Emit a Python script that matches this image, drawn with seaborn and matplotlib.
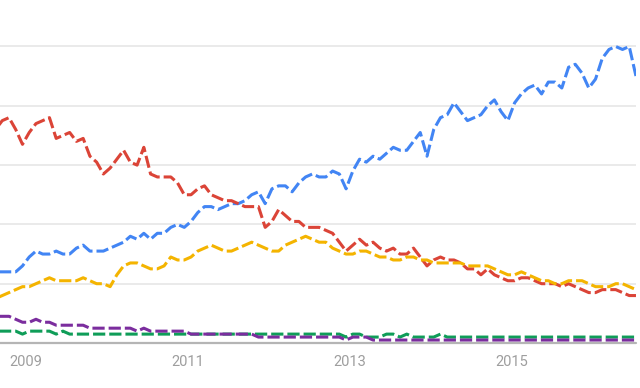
import numpy as np
import pandas as pd
import matplotlib
matplotlib.use("Agg")
import matplotlib.pyplot as plt
import seaborn as sns

# Monthly points, Aug 2008 .. Jul 2016
months = pd.date_range("2008-08-01", periods=96, freq="MS")

blue = [24, 24, 24, 24, 26, 29, 31, 30, 30, 31, 30, 30, 32, 33, 31, 31,
        31, 32, 33, 34, 36, 35, 37, 35, 37, 37, 39, 40, 39, 41, 44, 46,
        46, 45, 46, 47, 47, 48, 50, 51, 47, 52, 53, 53, 51, 54, 56, 57,
        56, 56, 58, 57, 52, 58, 62, 61, 63, 62, 64, 66, 65, 65, 68, 71,
        63, 72, 76, 77, 81, 78, 75, 76, 77, 80, 82, 78, 75, 81, 84, 86,
        87, 84, 88, 88, 86, 93, 94, 91, 86, 89, 96, 99, 100, 99, 100, 90]

red = [72, 75, 76, 72, 67, 71, 74, 75, 76, 69, 70, 71, 68, 69, 63, 61,
       57, 59, 62, 65, 61, 60, 66, 57, 56, 56, 56, 54, 50, 50, 52, 53,
       50, 49, 48, 48, 47, 46, 46, 46, 39, 41, 45, 43, 41, 41, 39, 39,
       39, 38, 37, 34, 31, 33, 35, 33, 34, 32, 31, 32, 30, 30, 32, 29,
       26, 28, 29, 28, 28, 27, 25, 25, 23, 25, 23, 22, 21, 21, 22, 22,
       21, 20, 20, 20, 19, 20, 19, 18, 17, 17, 18, 18, 18, 17, 16, 16]

yellow = [15, 16, 17, 18, 19, 19, 20, 21, 22, 21, 21, 21, 21, 22, 21, 20,
          20, 19, 23, 26, 27, 27, 26, 25, 25, 26, 29, 28, 28, 29, 31, 32,
          33, 32, 31, 31, 32, 33, 34, 33, 32, 31, 31, 33, 34, 35, 36, 35,
          34, 34, 32, 31, 30, 30, 31, 31, 30, 29, 29, 28, 28, 29, 29, 28,
          28, 27, 27, 27, 27, 27, 26, 26, 26, 26, 25, 24, 23, 23, 24, 23,
          22, 21, 21, 20, 20, 21, 21, 21, 20, 19, 19, 19, 20, 20, 19, 18]

green = [4, 4, 4, 4, 3, 4, 4, 4, 4, 3, 4, 3, 3, 3, 3, 3,
         3, 3, 3, 3, 3, 3, 3, 3, 3, 3, 3, 3, 3, 3, 3, 3,
         3, 3, 3, 3, 3, 3, 3, 3, 3, 3, 3, 3, 3, 3, 3, 3,
         3, 3, 3, 3, 2, 3, 3, 2, 2, 2, 3, 3, 2, 3, 2, 2,
         2, 2, 3, 2, 2, 2, 2, 2, 2, 2, 2, 2, 2, 2, 2, 2,
         2, 2, 2, 2, 2, 2, 2, 2, 2, 2, 2, 2, 2, 2, 2, 2]

purple = [9, 9, 9, 8, 7, 7, 8, 7, 7, 6, 6, 6, 6, 6, 5, 5,
          5, 5, 5, 5, 5, 4, 5, 4, 4, 4, 4, 4, 4, 3, 3, 3,
          3, 3, 3, 3, 3, 3, 3, 2, 2, 2, 2, 2, 2, 2, 2, 2,
          2, 2, 2, 2, 1, 2, 2, 2, 1, 1, 1, 1, 1, 1, 1, 1,
          1, 1, 1, 1, 1, 1, 1, 1, 1, 1, 1, 1, 1, 1, 1, 1,
          1, 1, 1, 1, 1, 1, 1, 1, 1, 1, 1, 1, 1, 1, 1, 1]

series_names = ["blue", "red", "yellow", "green", "purple"]
colors = ["#4285f4", "#db4437", "#f4b400", "#0f9d58", "#7b2d9e"]
tick_years = [2009, 2011, 2013, 2015]

# fractional-year position of each monthly point (mid-month)
t = months.year + (months.month - 0.5) / 12.0
frames = []
for name, vals in zip(series_names, [blue, red, yellow, green, purple]):
    frames.append(pd.DataFrame({"t": t, "value": vals, "series": name}))
df = pd.concat(frames, ignore_index=True)

sns.set_theme(style="white")
plt.rcParams["font.family"] = ["Roboto", "DejaVu Sans"]

W, H = 640, 388
fig = plt.figure(figsize=(W / 100, H / 100), dpi=100)
px_per_unit = (343 - 46.5) / 100.0
ytop = 104
ax_top_px = 343 - ytop * px_per_unit
ax = fig.add_axes([0, (H - 343) / H, 636 / W, (343 - ax_top_px) / H])

sns.lineplot(data=df, x="t", y="value", hue="series", hue_order=series_names,
             palette=colors, ax=ax, legend=False, linewidth=2.2, estimator=None,
             sort=False)
for line in ax.get_lines():
    line.set_dashes((4.0, 1.3))
    line.set_dash_capstyle("butt")
    line.set_solid_joinstyle("miter")

x_left = 2008.0 + 9.5 / 12 - 9 / 80.9
x_right = 2008.0 + 9.5 / 12 + 627 / 80.9
ax.set_xlim(x_left, x_right)
ax.set_ylim(0, ytop)

for v in [20, 40, 60, 80, 100]:
    ax.axhline(v, color="#e6e6e6", linewidth=1.2, zorder=0)
ax.axhline(0, color="#b5b5b5", linewidth=1.6, zorder=0, clip_on=False)

for s in ax.spines.values():
    s.set_visible(False)
ax.set_yticks([])
ax.set_xticks(tick_years)
ax.set_xticklabels([str(y) for y in tick_years])
ax.tick_params(axis="x", length=0, pad=9, labelsize=10.5, labelcolor="#9e9e9e")
ax.set_xlabel("")
ax.set_ylabel("")
ax.grid(False)

fig.savefig("out.png", dpi=100)
